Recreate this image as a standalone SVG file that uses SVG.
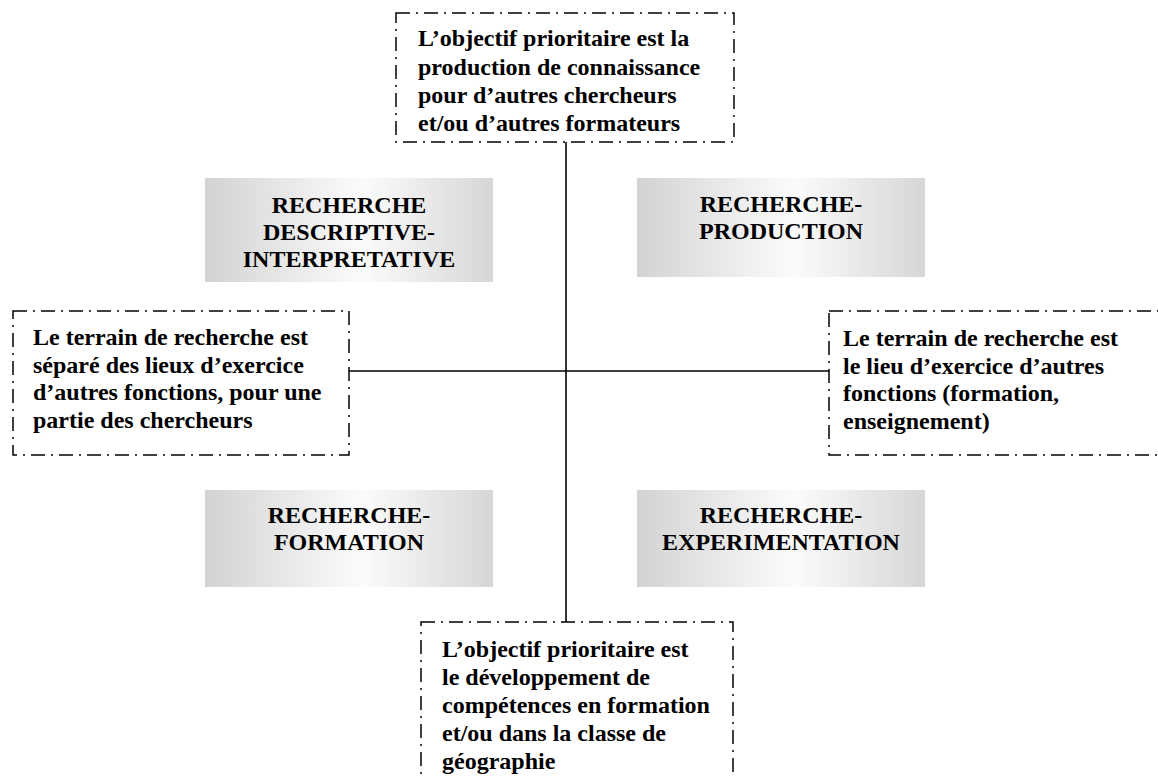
<svg xmlns="http://www.w3.org/2000/svg" width="1158" height="778" viewBox="0 0 1158 778">
<style>
  .t { font-family: "Liberation Serif", "Times New Roman", serif; font-weight: bold; font-size: 24px; fill: #000; }
  .c { text-anchor: middle; }
  .dd { fill: #fff; stroke: #000; stroke-width: 1.5; stroke-dasharray: 14 6 2 6; }
  .g { fill: url(#grey); stroke: none; }
  .ln { stroke: #000; stroke-width: 1.6; fill: none; }
</style>
<defs>
  <linearGradient id="grey" x1="0" y1="0" x2="1" y2="0">
    <stop offset="0" stop-color="#d3d3d3"/>
    <stop offset="0.55" stop-color="#fbfbfb"/>
    <stop offset="1" stop-color="#d6d6d6"/>
  </linearGradient>
</defs>
<rect width="1158" height="778" fill="#fff"/>

<g id="connectors">
  <line class="ln" x1="566" y1="142" x2="566" y2="622"/>
  <line class="ln" x1="349" y1="371" x2="829" y2="371"/>
</g>

<g id="top">
  <rect class="dd" x="396" y="13" width="338" height="129"/>
  <text class="t" x="418" y="46">L’objectif prioritaire est la</text>
  <text class="t" x="418" y="74.5">production de connaissance</text>
  <text class="t" x="418" y="103">pour d’autres chercheurs</text>
  <text class="t" x="418" y="131">et/ou d’autres formateurs</text>
</g>

<g id="descriptive">
  <rect class="g" x="205" y="178" width="288" height="104"/>
  <text class="t c" x="349" y="213">RECHERCHE</text>
  <text class="t c" x="349" y="240">DESCRIPTIVE-</text>
  <text class="t c" x="349" y="267">INTERPRETATIVE</text>
</g>

<g id="production">
  <rect class="g" x="637" y="178" width="288" height="99"/>
  <text class="t c" x="781" y="212">RECHERCHE-</text>
  <text class="t c" x="781" y="239">PRODUCTION</text>
</g>

<g id="left">
  <rect class="dd" x="13" y="311" width="336" height="144"/>
  <text class="t" x="33" y="345">Le terrain de recherche est</text>
  <text class="t" x="33" y="372.5">séparé des lieux d’exercice</text>
  <text class="t" x="33" y="400">d’autres fonctions, pour une</text>
  <text class="t" x="33" y="427.5">partie des chercheurs</text>
</g>

<g id="right">
  <rect class="dd" x="829" y="311" width="340" height="144"/>
  <text class="t" x="843" y="346">Le terrain de recherche est</text>
  <text class="t" x="843" y="373.5">le lieu d’exercice d’autres</text>
  <text class="t" x="843" y="401">fonctions (formation,</text>
  <text class="t" x="843" y="428.5">enseignement)</text>
</g>

<g id="formation">
  <rect class="g" x="205" y="490" width="288" height="97"/>
  <text class="t c" x="349" y="523">RECHERCHE-</text>
  <text class="t c" x="349" y="550">FORMATION</text>
</g>

<g id="experimentation">
  <rect class="g" x="637" y="490" width="288" height="97"/>
  <text class="t c" x="781" y="523">RECHERCHE-</text>
  <text class="t c" x="781" y="550">EXPERIMENTATION</text>
</g>

<g id="bottom">
  <rect class="dd" x="421" y="622" width="312" height="180"/>
  <text class="t" x="442" y="657">L’objectif prioritaire est</text>
  <text class="t" x="442" y="685">le développement de</text>
  <text class="t" x="442" y="713">compétences en formation</text>
  <text class="t" x="442" y="741">et/ou dans la classe de</text>
  <text class="t" x="442" y="769">géographie</text>
</g>
</svg>
